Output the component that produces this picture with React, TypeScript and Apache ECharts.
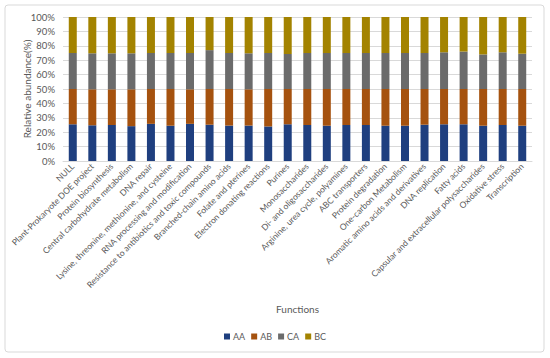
import React, { useEffect, useRef } from "react";
import * as echarts from "echarts";

const categories = [
  "NULL",
  "Plant-Prokaryote DOE project",
  "Protein biosynthesis",
  "Central carbohydrate metabolism",
  "DNA repair",
  "Lysine, threonine, methionine, and cysteine",
  "RNA processing and modification",
  "Resistance to antibiotics and toxic compounds",
  "Branched-chain amino acids",
  "Folate and pterines",
  "Electron donating reactions",
  "Purines",
  "Monosaccharides",
  "Di- and oligosaccharides",
  "Arginine, urea cycle, polyamines",
  "ABC transporters",
  "Protein degradation",
  "One-carbon Metabolism",
  "Aromatic amino acids and derivatives",
  "DNA replication",
  "Fatty acids",
  "Capsular and extracellular polysaccharides",
  "Oxidative stress",
  "Transcription",
];

const seriesNames = ["AA", "AB", "CA", "BC"];
const AA = [25.5, 24.8, 25.0, 24.2, 25.8, 24.5, 25.8, 25.2, 24.6, 24.6, 24.0, 25.5, 25.0, 24.5, 25.0, 25.0, 24.5, 24.5, 25.2, 25.5, 25.5, 24.5, 25.0, 24.5];
const AB = [24.5, 25.0, 24.8, 25.6, 24.2, 25.5, 24.0, 24.8, 25.4, 25.2, 26.0, 24.5, 25.0, 25.5, 25.0, 25.0, 25.5, 25.5, 24.8, 24.5, 24.5, 25.5, 25.0, 25.5];
const CA = [25.0, 25.0, 25.0, 25.0, 25.0, 25.0, 25.2, 27.0, 25.0, 25.0, 25.0, 24.3, 25.0, 25.0, 25.0, 25.0, 25.0, 25.0, 25.0, 25.5, 26.0, 24.0, 25.5, 24.5];
const BC = [25.0, 25.2, 25.2, 25.2, 25.0, 25.0, 25.0, 23.0, 25.0, 25.2, 25.0, 25.7, 25.0, 25.0, 25.0, 25.0, 25.0, 25.0, 25.0, 24.5, 24.0, 26.0, 24.5, 25.5];
const colors = ["#1F3F7F", "#A5520F", "#6B6B6B", "#A38300"];
const yTicks = [0, 10, 20, 30, 40, 50, 60, 70, 80, 90, 100];

export default function App() {
  const ref = useRef<HTMLDivElement>(null);
  useEffect(() => {
    if (!ref.current) return;
    const chart = echarts.init(ref.current, null, { renderer: "svg" });
    const font = "Lato";
    const data = [AA, AB, CA, BC];
    chart.setOption({
      animation: false,
      textStyle: { fontFamily: font },
      graphic: [
        {
          type: "rect",
          shape: { x: 5, y: 5, width: 539, height: 347, r: 3 },
          style: { fill: "none", stroke: "#D9D9D9", lineWidth: 1 },
          silent: true,
        },
      ],
      grid: { left: 63, right: 18, top: 17, height: 144, containLabel: false },
      legend: {
        bottom: 12,
        left: "center",
        itemWidth: 6,
        itemHeight: 6,
        itemGap: 6,
        icon: "rect",
        textStyle: { fontSize: 9, color: "#595959", fontFamily: font, padding: [0, 0, 0, -2] },
        data: seriesNames,
      },
      xAxis: {
        type: "category",
        data: categories,
        name: "Functions",
        nameLocation: "middle",
        nameGap: 143,
        nameMoveOverlap: false,
        nameTextStyle: { fontSize: 10, color: "#595959", fontFamily: font },
        axisLine: { lineStyle: { color: "#D9D9D9" } },
        axisTick: { show: false },
        axisLabel: {
          rotate: 45,
          interval: 0,
          fontSize: 8.5,
          color: "#595959",
          fontFamily: font,
          margin: 4,
        },
      },
      yAxis: {
        type: "value",
        min: 0,
        max: 100,
        interval: 10,
        name: "Relative abundance(%)",
        nameLocation: "middle",
        nameRotate: 90,
        nameGap: 31,
        nameMoveOverlap: false,
        nameTextStyle: { fontSize: 10, color: "#595959", fontFamily: font },
        axisLine: { show: false },
        axisTick: { show: false },
        splitLine: { lineStyle: { color: "#D9D9D9" } },
        axisLabel: {
          fontSize: 9.5,
          color: "#595959",
          fontFamily: font,
          margin: 8,
          formatter: (v: number) => (yTicks.includes(v) ? v + "%" : ""),
        },
      },
      series: seriesNames.map((n, i) => ({
        name: n,
        type: "bar",
        stack: "total",
        barWidth: 8,
        itemStyle: { color: colors[i] },
        data: data[i],
      })),
    });
    return () => chart.dispose();
  }, []);
  return (
    <div
      ref={ref}
      style={{ position: "fixed", left: 0, top: 0, width: 550, height: 358, background: "#fff" }}
    />
  );
}
